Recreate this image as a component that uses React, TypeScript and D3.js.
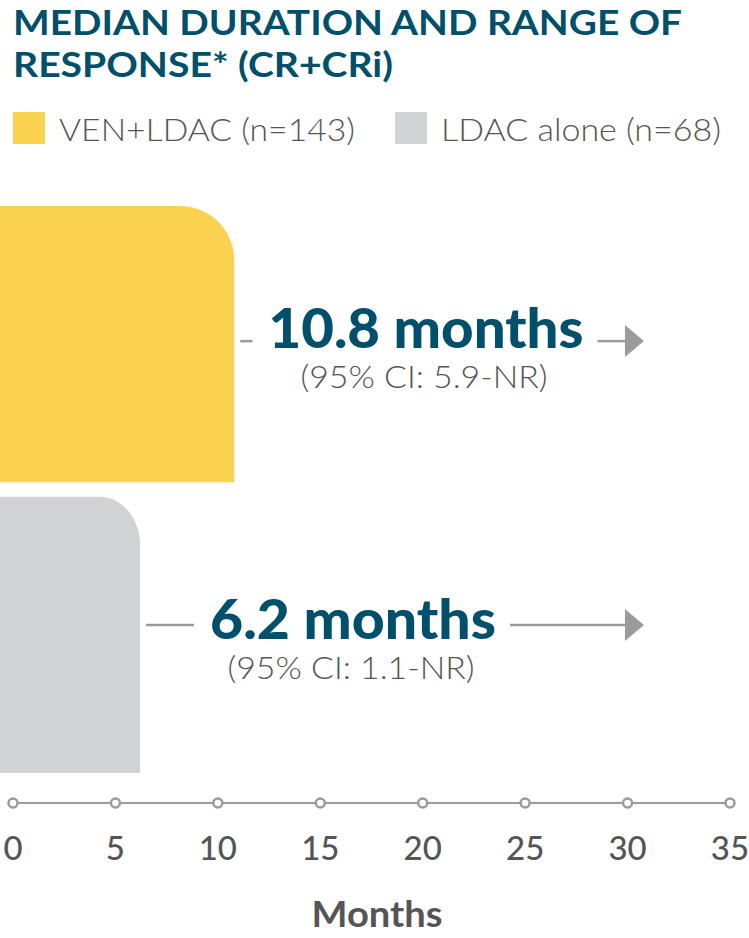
import * as React from "react";
import * as d3 from "d3";

const series: string[] = ["VEN+LDAC (n=143)", "LDAC alone (n=68)"];
const medians: number[] = [10.8, 6.2];
const medianLabels: string[] = ["10.8 months", "6.2 months"];
const ciLabels: string[] = ["(95% CI: 5.9-NR)", "(95% CI: 1.1-NR)"];
const rangeEnds: number[] = [30.8, 30.8];
const tickValues: number[] = [0, 5, 10, 15, 20, 25, 30, 35];
const titleLines: string[] = ["MEDIAN DURATION AND RANGE OF", "RESPONSE* (CR+CRi)"];

const colors = ["#fad250", "#d1d2d4"];
const teal = "#004f6b";
const textGray = "#555555";
const lineGray = "#9b9b9d";
const font = "Lato, 'Open Sans', sans-serif";

const width = 749;
const height = 938;

const x = d3.scaleLinear().domain([0, 35]).range([13, 730]);
const y = d3.scaleBand<string>().domain(series).range([206, 773]).paddingInner(0.05);

// bar with a rounded top-right corner
const barPath = (x0: number, x1: number, y0: number, y1: number, rx: number, ry: number) => {
  const p = d3.path();
  p.moveTo(x0, y0);
  p.lineTo(x1 - rx, y0);
  p.bezierCurveTo(x1 - rx * 0.45, y0, x1, y0 + ry * 0.45, x1, y0 + ry);
  p.lineTo(x1, y1);
  p.lineTo(x0, y1);
  p.closePath();
  return p.toString();
};

export default function App() {
  const axisY = 803;
  return (
    <svg
      width={width}
      height={height}
      style={{ position: "absolute", left: 0, top: 0, background: "#fff" }}
    >
      {titleLines.map((t, i) => (
        <text
          key={t}
          x={13}
          y={35 + i * 42}
          fill={teal}
          fontFamily={font}
          fontWeight={700}
          fontSize={35}
          textLength={i === 0 ? 669 : 380}
          lengthAdjust="spacingAndGlyphs"
        >
          {t}
        </text>
      ))}

      {/* legend */}
      {series.map((s, i) => {
        const lx = i === 0 ? 13 : 395;
        return (
          <g key={s}>
            <rect x={lx} y={112} width={32} height={32} fill={colors[i]} />
            <text
              x={lx + 46}
              y={141}
              fill={textGray}
              fontFamily={font}
              fontWeight={300}
              fontSize={31}
              textLength={i === 0 ? 296 : 280}
              lengthAdjust="spacingAndGlyphs"
            >
              {s}
            </text>
          </g>
        );
      })}

      {/* bars and labels */}
      {series.map((s, i) => {
        const y0 = y(s)!;
        const y1 = y0 + y.bandwidth();
        const cy = y0 + y.bandwidth() / 2;
        const xEnd = x(medians[i]);
        const rx = i === 0 ? 54 : 40;
        const ry = i === 0 ? 54 : 48;
        const textW = i === 0 ? 315 : 286;
        const textCx = i === 0 ? 426 : 353;
        const arrowY = cy + (i === 0 ? -3 : -10);
        const tip = x(rangeEnds[i]);
        return (
          <g key={s}>
            <path d={barPath(0, xEnd, y0, y1, rx, ry)} fill={colors[i]} />
            <line
              x1={xEnd + 6}
              x2={textCx - textW / 2 - 16}
              y1={arrowY}
              y2={arrowY}
              stroke={lineGray}
              strokeWidth={2.5}
            />
            <line
              x1={textCx + textW / 2 + 14}
              x2={tip - 18}
              y1={arrowY}
              y2={arrowY}
              stroke={lineGray}
              strokeWidth={2.5}
            />
            <path
              d={`M${tip - 19},${arrowY - 16}L${tip},${arrowY}L${tip - 19},${arrowY + 16}Z`}
              fill={lineGray}
            />
            <text
              x={textCx}
              y={cy + 4}
              textAnchor="middle"
              fill={teal}
              fontFamily={font}
              fontWeight={900}
              fontSize={55}
              textLength={textW}
              lengthAdjust="spacingAndGlyphs"
            >
              {medianLabels[i]}
            </text>
            <text
              x={textCx - 2}
              y={cy + 44}
              textAnchor="middle"
              fill={textGray}
              fontFamily={font}
              fontWeight={300}
              fontSize={31}
              textLength={247}
              lengthAdjust="spacingAndGlyphs"
            >
              {ciLabels[i]}
            </text>
          </g>
        );
      })}

      {/* axis */}
      <line x1={x(0)} x2={x(35)} y1={axisY} y2={axisY} stroke={lineGray} strokeWidth={2} />
      {tickValues.map((t) => (
        <g key={t}>
          <circle cx={x(t)} cy={axisY} r={4.5} fill="#fff" stroke={lineGray} strokeWidth={2.5} />
          <text
            x={x(t)}
            y={860}
            textAnchor="middle"
            fill={textGray}
            fontFamily={font}
            fontWeight={500}
            fontSize={33}
          >
            {t}
          </text>
        </g>
      ))}
      <text
        x={377}
        y={927}
        textAnchor="middle"
        fill={textGray}
        fontFamily={font}
        fontWeight={700}
        fontSize={36}
        textLength={131}
        lengthAdjust="spacingAndGlyphs"
      >
        Months
      </text>
    </svg>
  );
}
